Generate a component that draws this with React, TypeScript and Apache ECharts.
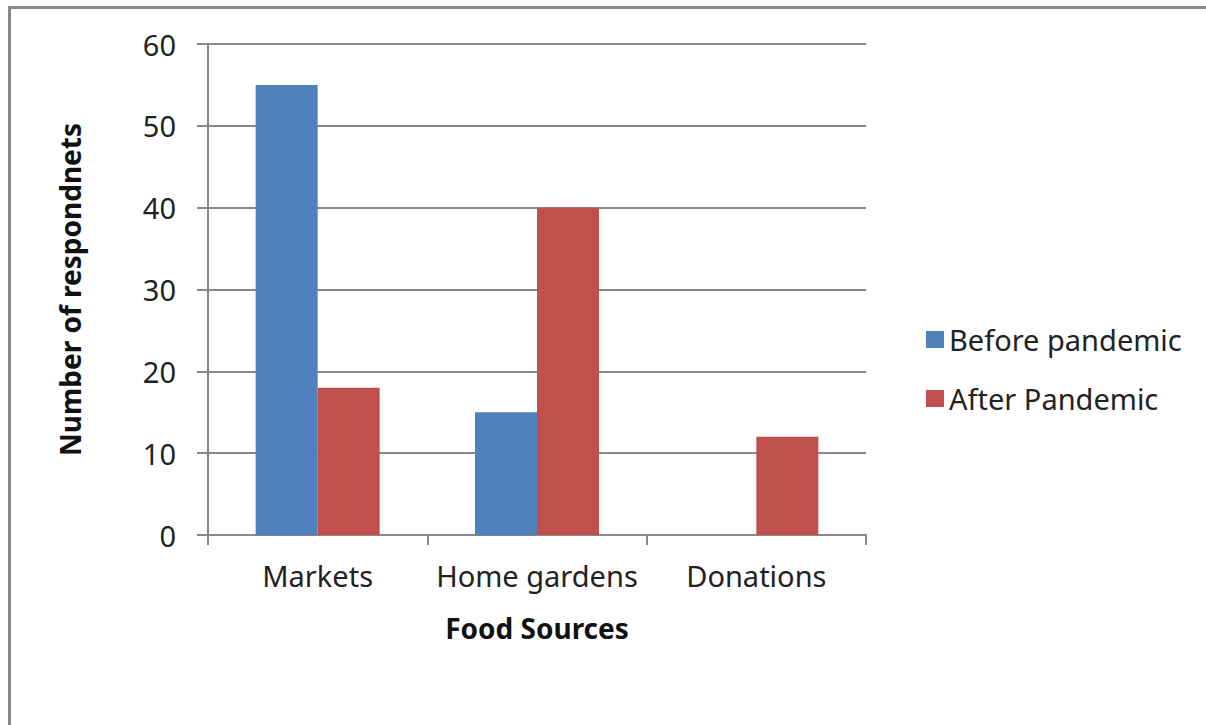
import React, { useEffect, useRef } from "react";
import * as echarts from "echarts";

const categories = ["Markets", "Home gardens", "Donations"];
const beforePandemic = [55, 15, 0];
const afterPandemic = [18, 40, 12];
const seriesNames = ["Before pandemic", "After Pandemic"];
const yTitle = "Number of respondnets";
const xTitle = "Food Sources";

const FONT = "'Noto Sans', 'Open Sans', sans-serif";

export default function App() {
  const ref = useRef<HTMLDivElement>(null);
  useEffect(() => {
    document.body.style.margin = "0";
    const chart = echarts.init(ref.current!, null, { renderer: "svg" });
    chart.setOption({
      animation: false,
      backgroundColor: "#ffffff",
      textStyle: { fontFamily: FONT },
      graphic: [
        {
          type: "polyline",
          shape: { points: [[9.5, 725], [9.5, 7.5], [1206, 7.5]] },
          style: { stroke: "#888888", lineWidth: 3, fill: "none" },
          silent: true,
        },
      ],
      legend: {
        orient: "vertical",
        left: 921,
        top: 320,
        itemWidth: 18,
        itemHeight: 17,
        itemGap: 30,
        icon: "rect",
        data: seriesNames,
        textStyle: { fontFamily: FONT, fontSize: 29, color: "#222222", padding: [0, 0, 0, 0] },
      },
      grid: { left: 208, top: 44, right: 340, bottom: 190, containLabel: false },
      xAxis: {
        type: "category",
        data: categories,
        axisLine: { show: true, lineStyle: { color: "#888888", width: 2 } },
        axisTick: { show: true, alignWithLabel: false, length: 10, lineStyle: { color: "#888888", width: 2 } },
        axisLabel: { fontFamily: FONT, fontSize: 29, color: "#222222", margin: 26, interval: 0 },
        name: xTitle,
        nameLocation: "middle",
        nameGap: 79,
        nameTextStyle: { fontFamily: FONT, fontSize: 28, fontWeight: "bold", color: "#111111" },
      },
      yAxis: {
        type: "value",
        min: 0,
        max: 60,
        interval: 10,
        axisLine: { show: true, lineStyle: { color: "#888888", width: 2 } },
        axisTick: { show: true, length: 11, lineStyle: { color: "#888888", width: 2 } },
        splitLine: { show: true, lineStyle: { color: "#888888", width: 2 } },
        axisLabel: { fontFamily: FONT, fontSize: 29, color: "#222222", margin: 32 },
        name: yTitle,
        nameLocation: "middle",
        nameGap: 124,
        nameRotate: 90,
        nameTextStyle: { fontFamily: FONT, fontSize: 28, fontWeight: "bold", color: "#111111" },
      },
      series: [
        {
          name: seriesNames[0],
          type: "bar",
          data: beforePandemic,
          barWidth: 62,
          barGap: "0%",
          itemStyle: { color: "#4F81BD" },
        },
        {
          name: seriesNames[1],
          type: "bar",
          data: afterPandemic,
          barWidth: 62,
          barGap: "0%",
          itemStyle: { color: "#C0504D" },
        },
      ],
    });
    return () => chart.dispose();
  }, []);
  return <div ref={ref} style={{ width: 1206, height: 725 }} />;
}
